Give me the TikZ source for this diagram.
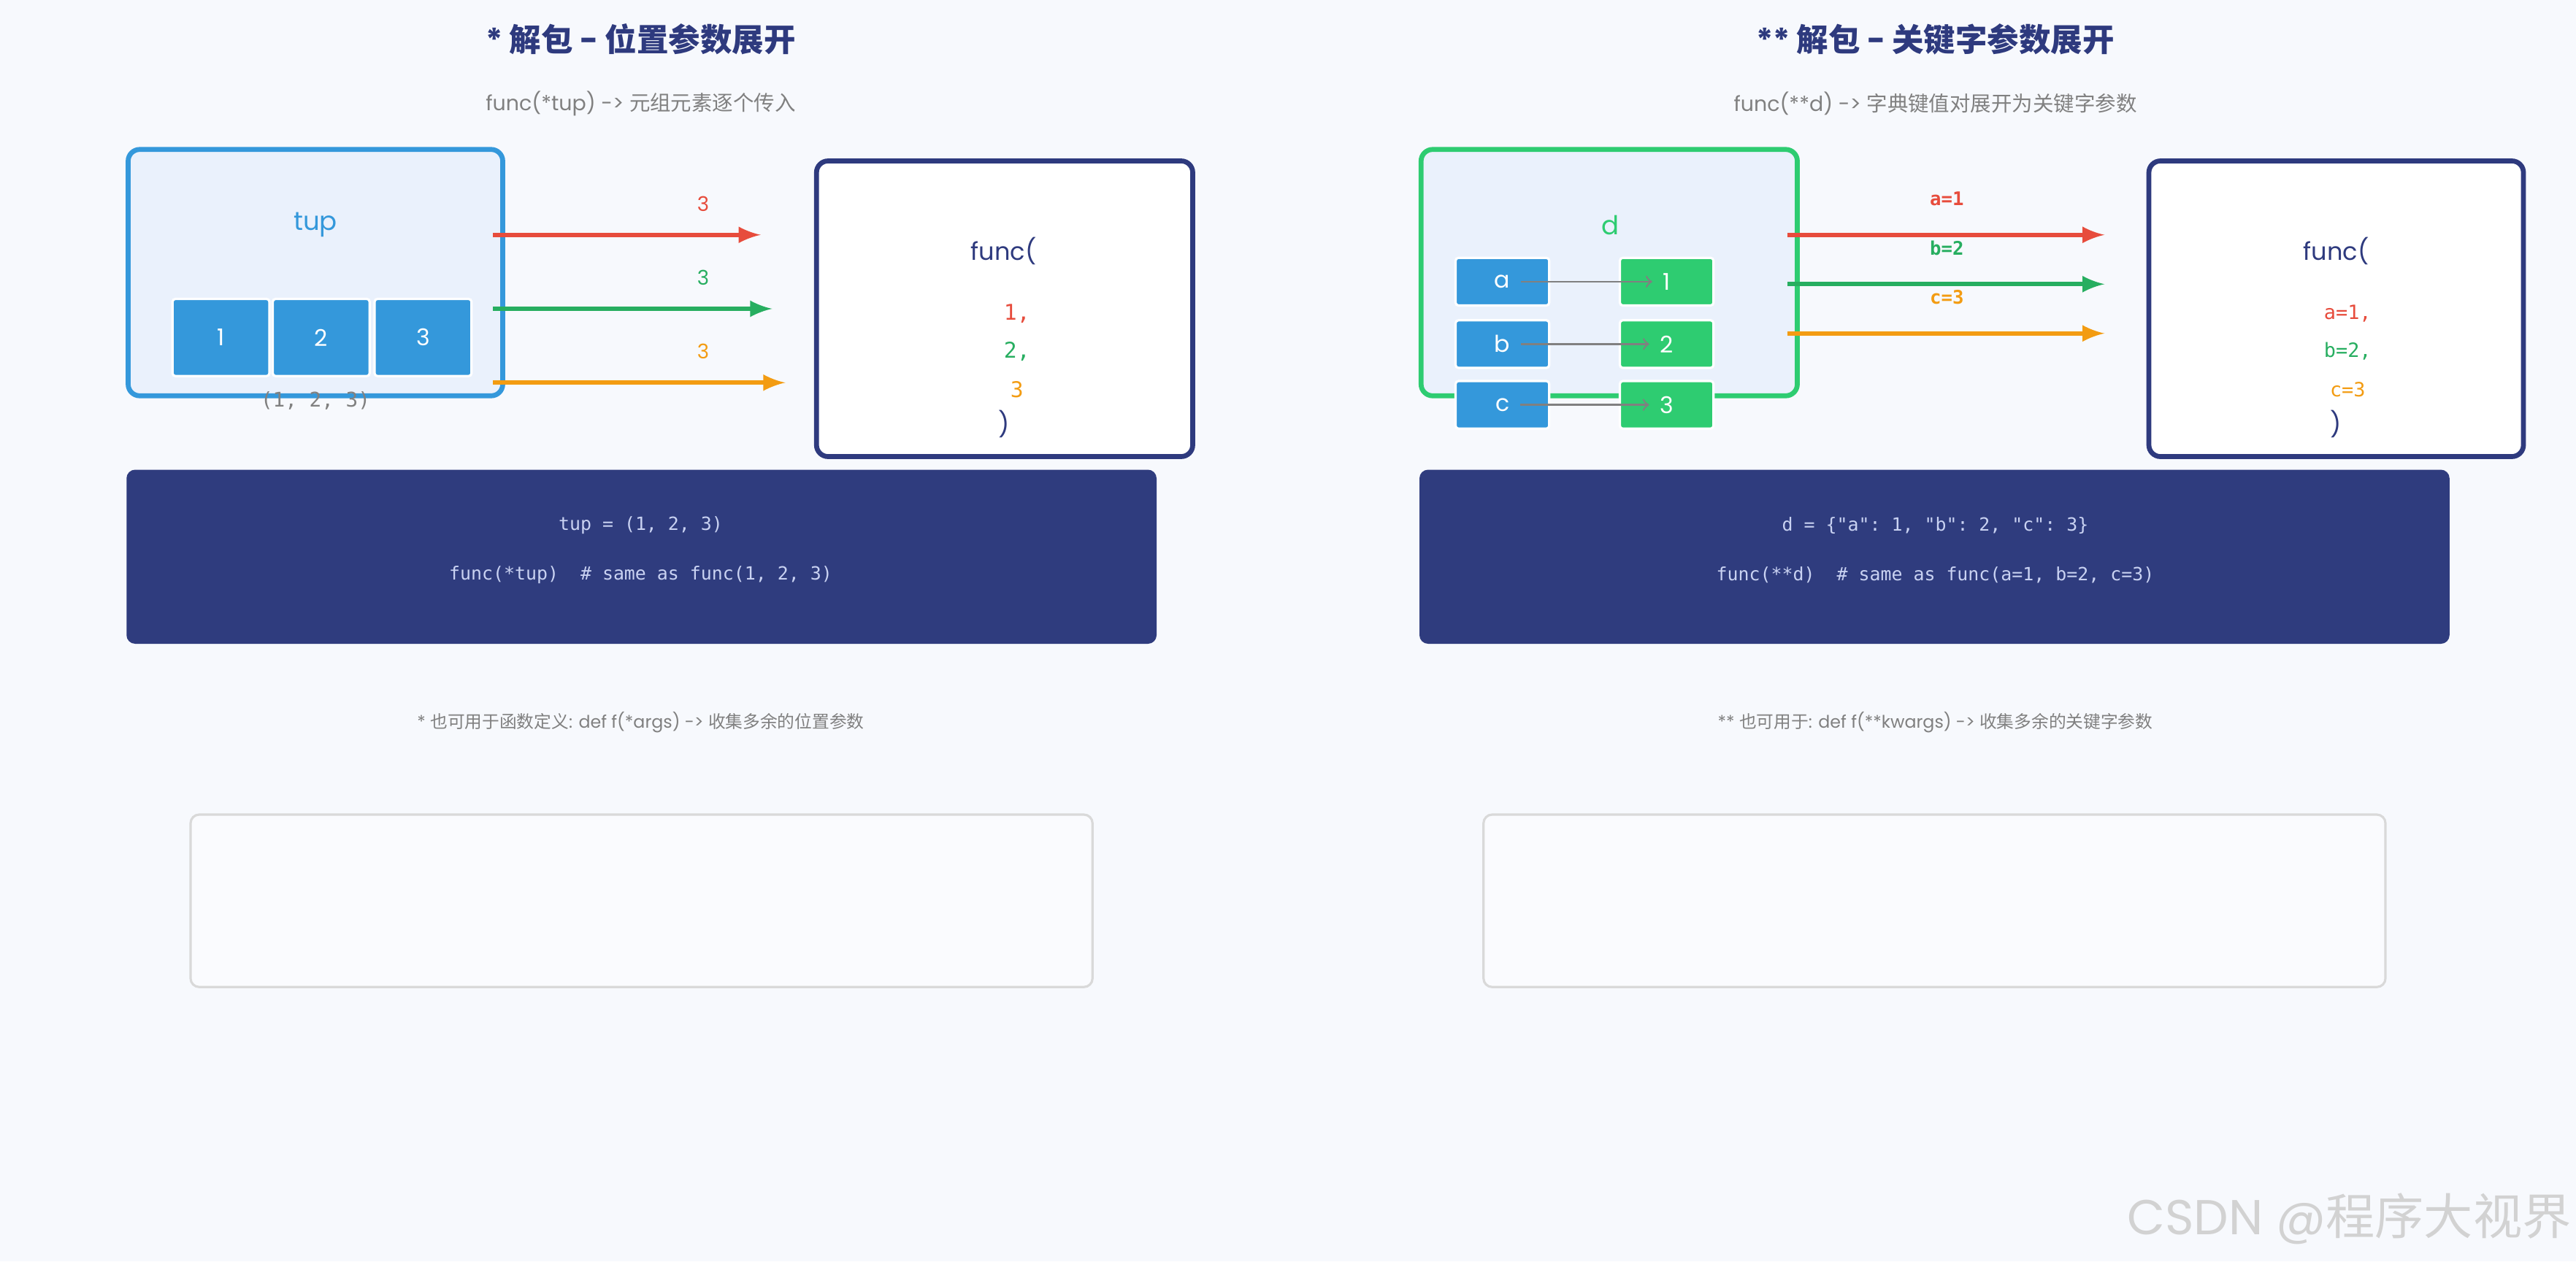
\documentclass[tikz,border=0pt]{standalone}
\usepackage{fontspec}
\setmainfont{Poppins}
\setmonofont{DejaVu Sans Mono}
\newfontfamily\cjk{Noto Sans CJK SC}
\usetikzlibrary{positioning}
\definecolor{bgc}{HTML}{F7F9FD}
\definecolor{navy}{HTML}{2E3A7E}
\definecolor{blu}{HTML}{3498DB}
\definecolor{grn}{HTML}{2ECC71}
\definecolor{dgrn}{HTML}{27AE60}
\definecolor{redc}{HTML}{E74C3C}
\definecolor{orng}{HTML}{F39C12}
\definecolor{pale}{HTML}{EAF1FC}
\definecolor{codec}{HTML}{2F3C7E}
\definecolor{codet}{HTML}{C9D2F2}
\tikzset{
  title/.style = {font=\fontsize{11}{13}\selectfont\bfseries, text=navy},
  sub/.style = {font=\fontsize{7.2}{9}\selectfont, text=gray},
  note/.style = {font=\fontsize{6}{8}\selectfont, text=gray},
  box/.style = {draw=#1, line width=1.7pt, rounded corners=4pt},
  cell/.style = {fill=#1, draw=white, line width=0.8pt, rounded corners=1pt,
                 text=white, font=\fontsize{8}{9}\selectfont},
  code/.style = {font=\ttfamily\fontsize{6.3}{8}\selectfont, text=codet},
  flow/.style = {line width=1.6pt, -latex},
}
\begin{document}
\begin{tikzpicture}[x=0.02cm, y=-0.02cm]
  \fill[bgc] (0,0) rectangle (1568,768);
  \useasboundingbox (0,0) rectangle (1568,768);
  % left: * unpacking
  \node[title] (t1) at (390,24) {* {\cjk 解包} - {\cjk 位置参数展开}};
  \node[sub] (s1) at (390,63) {func(*tup) -> {\cjk 元组元素逐个传入}};
  \draw[box=blu, fill=pale] (78,91) rectangle (306,241);
  \node[text=blu, font=\fontsize{9}{10}\selectfont] (tup) at (192,137) {tup};
  \foreach \x/\v in {105/1, 166/2, 228/3}
    \draw[cell=blu] (\x,182) rectangle node (c\v) {\v} ++(59,47);
  \node[font=\ttfamily\fontsize{7}{8}\selectfont, text=gray] (tv) at (192,244) {(1, 2, 3)};
  \draw[box=navy, fill=white] (497,98) rectangle (726,278);
  \coordinate (ra) at (300,143); \coordinate (rb) at (463,143);
  \coordinate (ga) at (300,188); \coordinate (gb) at (470,188);
  \coordinate (oa) at (300,233); \coordinate (ob) at (478,233);
  \draw[flow, redc] (ra) -- (rb);
  \draw[flow, dgrn] (ga) -- (gb);
  \draw[flow, orng] (oa) -- (ob);
  \node[text=redc, font=\fontsize{7}{8}\selectfont] (l1) at (428,124) {3};
  \node[text=dgrn, font=\fontsize{7}{8}\selectfont] (l2) at (428,169) {3};
  \node[text=orng, font=\fontsize{7}{8}\selectfont] (l3) at (428,214) {3};
  \node[text=navy, font=\fontsize{8.5}{10}\selectfont] (f1) at (611,153) {func(};
  \node[text=redc, font=\ttfamily\fontsize{7.5}{9}\selectfont] (p1) at (619,191) {1,};
  \node[text=dgrn, font=\ttfamily\fontsize{7.5}{9}\selectfont] (p2) at (619,214) {2,};
  \node[text=orng, font=\ttfamily\fontsize{7.5}{9}\selectfont] (p3) at (619,237) {3};
  \node[text=navy, font=\fontsize{8.5}{10}\selectfont] (e1) at (611,258) {)};
  \fill[codec, rounded corners=3pt] (77,286) rectangle (704,392);
  \node[code] (k1) at (390,320) {tup = (1, 2, 3)};
  \node[code] (k2) at (390,350) {func(*tup)\ \ \# same as func(1, 2, 3)};
  \node[note] (n1) at (390,440) {* {\cjk 也可用于函数定义}: def f(*args) -> {\cjk 收集多余的位置参数}};
  \draw[gray!30, line width=0.8pt, fill=bgc!60!white, rounded corners=3pt] (116,496) rectangle (665,601);
  % right: ** unpacking
  \node[title] (t2) at (1178,24) {** {\cjk 解包} - {\cjk 关键字参数展开}};
  \node[sub] (s2) at (1178,63) {func(**d) -> {\cjk 字典键值对展开为关键字参数}};
  \draw[box=grn, fill=pale] (865,91) rectangle (1094,241);
  \node[text=grn, font=\fontsize{9}{10}\selectfont] (d) at (980,137) {d};
  \foreach \y/\k/\v in {157/a/1, 195/b/2, 232/c/3} {
    \draw[cell=blu] (886,\y) rectangle node (k\k) {\k} ++(57,29);
    \draw[cell=grn] (986,\y) rectangle node (v\k) {\v} ++(57,29);
    \draw[gray, line width=0.6pt, ->] (k\k.east) -- (v\k.west);
  }
  \draw[box=navy, fill=white] (1308,98) rectangle (1536,278);
  \coordinate (Ra) at (1088,143); \coordinate (Rb) at (1281,143);
  \coordinate (Ga) at (1088,173); \coordinate (Gb) at (1281,173);
  \coordinate (Oa) at (1088,203); \coordinate (Ob) at (1281,203);
  \draw[flow, redc] (Ra) -- (Rb);
  \draw[flow, dgrn] (Ga) -- (Gb);
  \draw[flow, orng] (Oa) -- (Ob);
  \node[text=redc, font=\ttfamily\bfseries\fontsize{6.5}{8}\selectfont] (m1) at (1185,121) {a=1};
  \node[text=dgrn, font=\ttfamily\bfseries\fontsize{6.5}{8}\selectfont] (m2) at (1185,151) {b=2};
  \node[text=orng, font=\ttfamily\bfseries\fontsize{6.5}{8}\selectfont] (m3) at (1185,181) {c=3};
  \node[text=navy, font=\fontsize{8.5}{10}\selectfont] (f2) at (1422,153) {func(};
  \node[text=redc, font=\ttfamily\fontsize{6.8}{8}\selectfont] (q1) at (1429,191) {a=1,};
  \node[text=dgrn, font=\ttfamily\fontsize{6.8}{8}\selectfont] (q2) at (1429,214) {b=2,};
  \node[text=orng, font=\ttfamily\fontsize{6.8}{8}\selectfont] (q3) at (1429,237) {c=3};
  \node[text=navy, font=\fontsize{8.5}{10}\selectfont] (e2) at (1422,258) {)};
  \fill[codec, rounded corners=3pt] (864,286) rectangle (1491,392);
  \node[code] (k3) at (1178,320) {d = \{"a": 1, "b": 2, "c": 3\}};
  \node[code] (k4) at (1178,350) {func(**d)\ \ \# same as func(a=1, b=2, c=3)};
  \node[note] (n2) at (1178,440) {** {\cjk 也可用于}: def f(**kwargs) -> {\cjk 收集多余的关键字参数}};
  \draw[gray!30, line width=0.8pt, fill=bgc!60!white, rounded corners=3pt] (903,496) rectangle (1452,601);
  \node[text=gray!35, font=\fontsize{17}{20}\selectfont] (wm) at (1430,742) {CSDN @{\cjk 程序大视界}};
\end{tikzpicture}
\end{document}
